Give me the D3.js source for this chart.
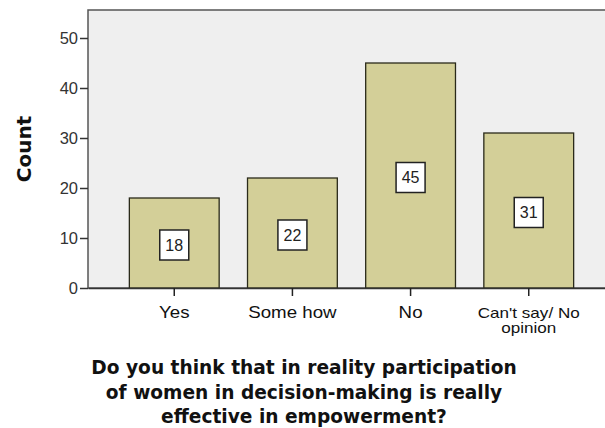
<!DOCTYPE html>
<meta charset="utf-8">
<style>
    body { margin: 0; background: #fff; }
    text { font-family: 'Liberation Sans', Arial, sans-serif; }
</style>
<script src="https://d3js.org/d3.v7.min.js"></script>
<div id="graph"></div>
<script>
    const categories = ["Yes", "Some how", "No", "Can't say/ No opinion"];
    const counts = [18, 22, 45, 31];
    const yTicks = [0, 10, 20, 30, 40, 50];
    const titleLines = ["Do you think that in reality participation",
        "of women in decision-making is really",
        "effective in empowerment?"];

    const W = 605, H = 428;
    const margin = {top: 10, left: 88, bottom: 140};
    const plotRight = 615;   // frame runs off the right edge
    const plotBottom = H - margin.bottom;
    const sansFont = "'Liberation Sans', Arial, sans-serif";

    const svg = d3.select("#graph").append("svg")
        .attr("width", W).attr("height", H);

    const x = d3.scaleBand()
        .domain(categories)
        .range([margin.left, plotRight])
        .paddingInner(0.24)
        .paddingOuter(0.35);

    const y = d3.scaleLinear()
        .domain([0, 55.6])
        .range([plotBottom, margin.top]);

    // plot background
    svg.append("rect")
        .attr("x", margin.left).attr("y", margin.top)
        .attr("width", plotRight - margin.left)
        .attr("height", plotBottom - margin.top)
        .attr("fill", "#efefef")
        .attr("stroke", "#555")
        .attr("stroke-width", 1.5);

    // bars
    svg.append("g").selectAll("rect")
        .data(categories)
        .join("rect")
        .attr("x", d => x(d))
        .attr("y", (d, i) => y(counts[i]))
        .attr("width", x.bandwidth())
        .attr("height", (d, i) => y(0) - y(counts[i]))
        .attr("fill", "#d3cf98")
        .attr("stroke", "#2a2a1a")
        .attr("stroke-width", 1.3);

    // value labels in boxes
    const lab = svg.append("g").selectAll("g")
        .data(categories)
        .join("g")
        .attr("transform", (d, i) => `translate(${x(d) + x.bandwidth() / 2},${y(counts[i] / 2) + 2})`);
    lab.append("rect")
        .attr("x", -14.5).attr("y", -15)
        .attr("width", 29).attr("height", 30)
        .attr("fill", "#fff")
        .attr("stroke", "#222")
        .attr("stroke-width", 1.5);
    lab.append("text")
        .attr("text-anchor", "middle")
        .attr("dy", "0.36em")
        .attr("font-size", 16)
        .attr("fill", "#222")
        .text((d, i) => counts[i]);

    // y axis
    const axisY = svg.append("g")
        .attr("transform", `translate(${margin.left},0)`)
        .call(d3.axisLeft(y).tickValues(yTicks).tickSize(8).tickPadding(2));
    axisY.select(".domain").remove();
    axisY.selectAll("line").attr("stroke", "#333").attr("stroke-width", 1.5);
    axisY.selectAll("text").attr("font-size", 16.5).attr("fill", "#333")
        .attr("font-family", sansFont);

    // x axis
    const axisX = svg.append("g")
        .attr("transform", `translate(0,${plotBottom})`)
        .call(d3.axisBottom(x).tickSize(8).tickSizeOuter(0));
    axisX.select(".domain").attr("stroke", "#333").attr("stroke-width", 1.5);
    axisX.selectAll("line").attr("stroke", "#222").attr("stroke-width", 1.5);
    axisX.selectAll("text").remove();
    axisX.selectAll(".tick").append("text")
        .attr("transform", d => d === "Can't say/ No opinion" ? "scale(1.22,1)" : "scale(1.17,1)")
        .attr("text-anchor", "middle")
        .attr("font-size", d => d === "Can't say/ No opinion" ? 14 : 16)
        .attr("fill", "#111")
        .attr("font-family", sansFont)
        .selectAll("tspan")
        .data(d => d === "Can't say/ No opinion" ? ["Can't say/ No", "opinion"] : [d])
        .join("tspan")
        .attr("x", 0)
        .attr("y", (d, i) => 30 + i * 15)
        .text(d => d);

    // y title
    svg.append("text")
        .attr("transform", `translate(31,${(margin.top + plotBottom) / 2}) rotate(-90)`)
        .attr("text-anchor", "middle")
        .attr("font-size", 20)
        .attr("font-weight", "bold")
        .attr("fill", "#111")
        .style("font-family", "'DejaVu Sans', Verdana, sans-serif")
        .text("Count");

    // x title
    svg.append("text")
        .attr("text-anchor", "middle")
        .attr("font-size", 18.6)
        .attr("font-weight", "bold")
        .attr("fill", "#111")
        .style("font-family", "'DejaVu Sans', Verdana, sans-serif")
        .selectAll("tspan")
        .data(titleLines)
        .join("tspan")
        .attr("x", 304)
        .attr("y", (d, i) => 374 + i * 24.5)
        .text(d => d);
</script>
